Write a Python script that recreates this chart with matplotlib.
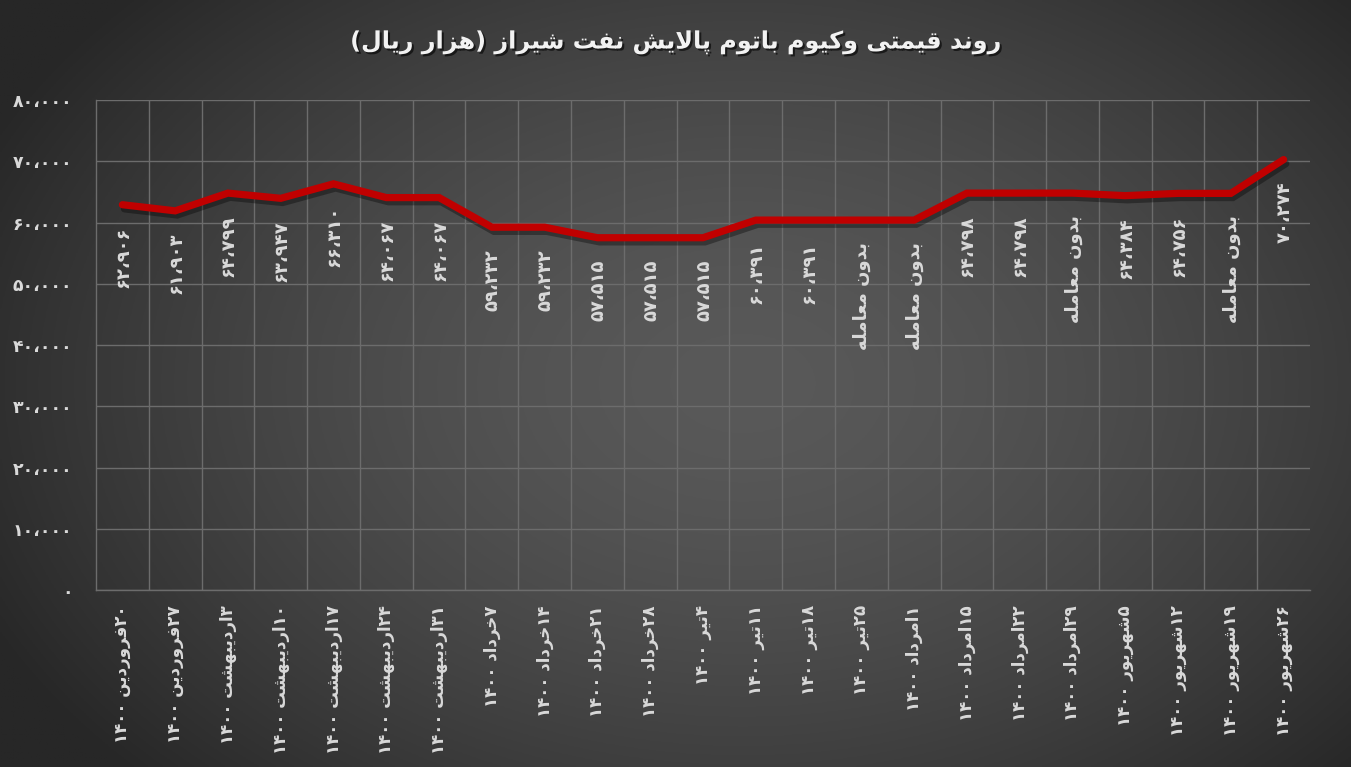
import re
import numpy as np
import matplotlib
matplotlib.use("Agg")
import matplotlib.pyplot as plt
from matplotlib import font_manager, ft2font
from matplotlib.ticker import FuncFormatter, FixedLocator
import matplotlib.patheffects as pe

# ---------------- data ----------------
title_text = "روند قیمتی وکیوم باتوم پالایش نفت شیراز (هزار ریال)"
dates = [
    "۲۰فروردین ۱۴۰۰", "۲۷فروردین ۱۴۰۰", "۳اردیبهشت ۱۴۰۰", "۱۰اردیبهشت ۱۴۰۰",
    "۱۷اردیبهشت ۱۴۰۰", "۲۴اردیبهشت ۱۴۰۰", "۳۱اردیبهشت ۱۴۰۰", "۷خرداد ۱۴۰۰",
    "۱۴خرداد ۱۴۰۰", "۲۱خرداد ۱۴۰۰", "۲۸خرداد ۱۴۰۰", "۴تیر ۱۴۰۰",
    "۱۱تیر ۱۴۰۰", "۱۸تیر ۱۴۰۰", "۲۵تیر ۱۴۰۰", "۱امرداد ۱۴۰۰",
    "۱۵امرداد ۱۴۰۰", "۲۲امرداد ۱۴۰۰", "۲۹امرداد ۱۴۰۰", "۵شهریور ۱۴۰۰",
    "۱۲شهریور ۱۴۰۰", "۱۹شهریور ۱۴۰۰", "۲۶شهریور ۱۴۰۰",
]
prices = [62906, 61903, 64799, 63947, 66310, 64067, 64067, 59232,
          59232, 57515, 57515, 57515, 60391, 60391, 60391, 60391,
          64798, 64798, 64798, 64384, 64756, 64756, 70274]
traded = [True, True, True, True, True, True, True, True,
          True, True, True, True, True, True, False, False,
          True, True, False, True, True, False, True]
no_trade_text = "بدون معامله"
y_ticks = [0, 10000, 20000, 30000, 40000, 50000, 60000, 70000, 80000]

# ---------------- Persian shaping / bidi ----------------
DUAL = {
    'ب': (0xFE8F, 0xFE90, 0xFE91, 0xFE92), 'پ': (0xFB56, 0xFB57, 0xFB58, 0xFB59),
    'ت': (0xFE95, 0xFE96, 0xFE97, 0xFE98), 'خ': (0xFEA5, 0xFEA6, 0xFEA7, 0xFEA8),
    'ش': (0xFEB5, 0xFEB6, 0xFEB7, 0xFEB8), 'ع': (0xFEC9, 0xFECA, 0xFECB, 0xFECC),
    'ف': (0xFED1, 0xFED2, 0xFED3, 0xFED4), 'ق': (0xFED5, 0xFED6, 0xFED7, 0xFED8),
    'ک': (0xFB8E, 0xFB8F, 0xFB90, 0xFB91), 'ل': (0xFEDD, 0xFEDE, 0xFEDF, 0xFEE0),
    'م': (0xFEE1, 0xFEE2, 0xFEE3, 0xFEE4), 'ن': (0xFEE5, 0xFEE6, 0xFEE7, 0xFEE8),
    'ه': (0xFEE9, 0xFEEA, 0xFEEB, 0xFEEC), 'ی': (0xFBFC, 0xFBFD, 0xFBFE, 0xFBFF),
}
RIGHT = {
    'ا': (0xFE8D, 0xFE8E), 'د': (0xFEA9, 0xFEAA), 'ر': (0xFEAD, 0xFEAE),
    'ز': (0xFEAF, 0xFEB0), 'و': (0xFEED, 0xFEEE),
}


def shape(s):
    out = []
    i, n = 0, len(s)
    while i < n:
        c = s[i]
        if c not in DUAL and c not in RIGHT:
            out.append(c)
            i += 1
            continue
        prev = s[i - 1] if i > 0 else None
        jp = prev in DUAL
        if c == 'ل' and i + 1 < n and s[i + 1] == 'ا':
            out.append(chr(0xFEFC if jp else 0xFEFB))
            i += 2
            continue
        nxt = s[i + 1] if i + 1 < n else None
        jn = c in DUAL and (nxt in DUAL or nxt in RIGHT)
        f = DUAL.get(c) or RIGHT.get(c)
        if jp and jn:
            g = f[3]
        elif jp:
            g = f[1]
        elif jn:
            g = f[2]
        else:
            g = f[0]
        out.append(chr(g))
        i += 1
    return ''.join(out)


MIRROR = {'(': ')', ')': '('}
NUM_RE = re.compile(r'[۰-۹0-9]+(?:[،,.٫][۰-۹0-9]+)*')


def fa(s):
    sh = shape(s)
    tokens = []
    pos = 0
    for m in NUM_RE.finditer(sh):
        if m.start() > pos:
            tokens.append(('r', sh[pos:m.start()]))
        tokens.append(('l', m.group()))
        pos = m.end()
    if pos < len(sh):
        tokens.append(('r', sh[pos:]))
    vis = []
    for kind, t in reversed(tokens):
        if kind == 'r':
            vis.append(''.join(MIRROR.get(ch, ch) for ch in reversed(t)))
        else:
            vis.append(t)
    return ''.join(vis)


PDIG = str.maketrans('0123456789', '۰۱۲۳۴۵۶۷۸۹')


def fa_num(v):
    return f"{int(round(v)):,}".replace(',', '،').translate(PDIG)


# ---------------- font choice ----------------
all_text = fa(title_text) + ''.join(fa(d) for d in dates) + fa(no_trade_text) + fa_num(1234567890)


def has_glyphs(weight):
    path = font_manager.findfont(font_manager.FontProperties(family='DejaVu Sans', weight=weight))
    f = ft2font.FT2Font(path)
    return all(f.get_char_index(ord(c)) != 0 for c in set(all_text) if not c.isspace())


BOLD_OK = has_glyphs('bold')
WEIGHT = 'bold' if BOLD_OK else 'normal'
plt.rcParams['font.family'] = ['DejaVu Sans']

TXT = '#d9d9d9'
GRID = '#6c6c6c'
if BOLD_OK:
    txt_fx = []
else:
    txt_fx = [pe.withStroke(linewidth=0.8, foreground=TXT)]

# ---------------- figure ----------------
W, H = 1351, 767
fig = plt.figure(figsize=(W / 100, H / 100), dpi=100)

# radial gradient background
bg = fig.add_axes([0, 0, 1, 1], zorder=-10)
yy, xx = np.mgrid[0:1:300j, 0:1:500j]
d = np.sqrt(((xx - 0.55) / 0.62) ** 2 + ((yy - 0.5) / 0.75) ** 2)
d = np.clip(d, 0, 1)
lvl = (0x59 - (0x59 - 0x27) * d ** 1.6) / 255.0
img = np.dstack([lvl, lvl, lvl])
bg.imshow(img, aspect='auto', extent=[0, 1, 0, 1], origin='lower')
bg.set_axis_off()

ax = fig.add_axes([96 / W, 1 - 590 / H, (1310 - 96) / W, (590 - 100) / H])
ax.patch.set_alpha(0)

x = np.arange(len(prices))
ax.plot(x, prices, color='#c00000', lw=5.2, solid_capstyle='round', solid_joinstyle='miter',
        zorder=5,
        path_effects=[pe.SimpleLineShadow(offset=(1.5, -3), shadow_color='black', alpha=0.35),
                      pe.Normal()])

ax.set_xlim(-0.5, len(prices) - 0.5)
ax.set_ylim(0, 80000)

ax.yaxis.set_major_locator(FixedLocator(y_ticks))
ax.yaxis.set_major_formatter(FuncFormatter(lambda v, p: fa_num(v)))
ax.set_xticks(x)
ax.set_xticklabels([fa(dd) for dd in dates], rotation=90, fontsize=12,
                   fontweight=WEIGHT, color=TXT, va='top', ha='center')
ax.set_xticks(x[:-1] + 0.5, minor=True)
ax.tick_params(axis='x', which='both', length=0, pad=11)
ax.tick_params(axis='y', length=0, pad=17, labelsize=12.5, labelcolor=TXT)
for lab in ax.get_yticklabels():
    lab.set_fontweight(WEIGHT)
    lab.set_path_effects(txt_fx)
for lab in ax.get_xticklabels():
    lab.set_path_effects(txt_fx)

ax.grid(True, which='major', axis='y', color=GRID, lw=1.0)
ax.grid(True, which='minor', axis='x', color=GRID, lw=1.0)
ax.set_axisbelow(True)
for sp in ['top', 'right']:
    ax.spines[sp].set_visible(False)
for sp in ['left', 'bottom']:
    ax.spines[sp].set_color(GRID)
    ax.spines[sp].set_linewidth(1.0)

# data labels
for xi, v, t in zip(x, prices, traded):
    s = fa_num(v) if t else fa(no_trade_text)
    ax.annotate(s, (xi, v), xytext=(1, -22), textcoords='offset pixels',
                rotation=90, ha='center', va='top', fontsize=13, fontweight=WEIGHT,
                color=TXT, zorder=6, path_effects=txt_fx)

# title
fig.text(0.5, 1 - 42 / H, fa(title_text), ha='center', va='center', fontsize=17.2,
         fontweight=WEIGHT, color='#f2f2f2',
         path_effects=[pe.SimplePatchShadow(offset=(1.5, -1.5), shadow_rgbFace='black', alpha=0.6),
                       pe.Normal()] + txt_fx)

fig.savefig('out.png', dpi=100)
